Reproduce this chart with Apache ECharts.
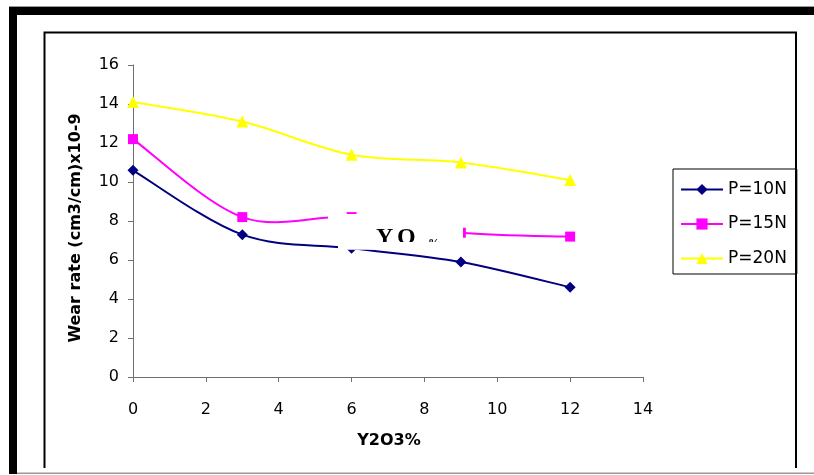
<!DOCTYPE html>
<html>
<head>
<meta charset="utf-8">
<script src="https://cdn.jsdelivr.net/npm/echarts@6/dist/echarts.min.js"></script>
<style>
  html, body { margin: 0; padding: 0; background: #fff; }
  #chart { width: 814px; height: 475px; }
</style>
</head>
<body>
<div id="chart"></div>
<script>
// Y2O3 content (%) and measured wear rate (cm3/cm x10^-9) at three loads
const yttriaContent = [0, 3, 6, 9, 12];
const wear10N = [10.6, 7.3, 6.6, 5.9, 4.6];
const wear15N = [12.2, 8.2, 8.2, 7.4, 7.2];
const wear20N = [14.1, 13.1, 11.4, 11.0, 10.1];
const seriesNames = ['P=10N', 'P=15N', 'P=20N'];

const xTitle = 'Y2O3%';
const yTitle = 'Wear rate (cm3/cm)x10-9';

const FONT = 'DejaVu Sans';

function pairs(values) {
  return yttriaContent.map((x, i) => [x, values[i]]);
}

// Spreadsheet-style smoothed curve (Catmull-Rom through the data points),
// positioned through the chart's own coordinate system.
function smoothCurve(values, color) {
  const data = pairs(values);
  return {
    type: 'custom',
    data: data,
    z: 2,
    silent: true,
    renderItem: function (params, api) {
      if (params.dataIndex !== 0) return null;
      const p = data.map(d => api.coord(d));
      const n = p.length;
      let d = 'M' + p[0][0] + ',' + p[0][1];
      for (let i = 0; i < n - 1; i++) {
        const p0 = p[Math.max(i - 1, 0)];
        const p1 = p[i];
        const p2 = p[i + 1];
        const p3 = p[Math.min(i + 2, n - 1)];
        const c1x = p1[0] + (p2[0] - p0[0]) / 6;
        const c1y = p1[1] + (p2[1] - p0[1]) / 6;
        const c2x = p2[0] - (p3[0] - p1[0]) / 6;
        const c2y = p2[1] - (p3[1] - p1[1]) / 6;
        d += ' C' + c1x + ',' + c1y + ' ' + c2x + ',' + c2y + ' ' + p2[0] + ',' + p2[1];
      }
      return {
        type: 'path',
        shape: { pathData: d },
        style: { stroke: color, lineWidth: 2, fill: 'none' }
      };
    }
  };
}

function markerSeries(name, values, color, symbol, size) {
  return {
    name: name,
    type: 'line',
    data: pairs(values),
    symbol: symbol,
    symbolSize: size,
    showSymbol: true,
    lineStyle: { color: color, width: 2, opacity: 0 },
    itemStyle: { color: color },
    emphasis: { disabled: true },
    z: 3
  };
}

const chart = echarts.init(document.getElementById('chart'), null, { renderer: 'canvas' });

const axisGray = '#707070';

chart.setOption({
  animation: false,
  backgroundColor: '#ffffff',
  grid: { left: 133, right: 171, top: 65, bottom: 98, containLabel: false },
  xAxis: {
    type: 'value',
    min: 0, max: 14, interval: 2,
    axisLine: { show: true, onZero: false, lineStyle: { color: axisGray, width: 1 } },
    axisTick: { show: true, length: 5, lineStyle: { color: axisGray } },
    axisLabel: { color: '#000', fontFamily: FONT, fontSize: 16, margin: 25 },
    splitLine: { show: false }
  },
  yAxis: {
    type: 'value',
    min: 0, max: 16, interval: 2,
    axisLine: { show: true, lineStyle: { color: axisGray, width: 1 } },
    axisTick: { show: true, length: 5, lineStyle: { color: axisGray } },
    axisLabel: { color: '#000', fontFamily: FONT, fontSize: 16, margin: 14 },
    splitLine: { show: false }
  },
  legend: {
    orient: 'vertical',
    left: 673, top: 169,
    itemWidth: 42, itemHeight: 14, itemGap: 17.5,
    padding: [12, 10, 7, 7],
    borderColor: '#000', borderWidth: 1,
    backgroundColor: '#fff',
    lineStyle: { opacity: 1, width: 2 },
    textStyle: { fontFamily: FONT, fontSize: 17, lineHeight: 16, color: '#000' },
    data: seriesNames
  },
  series: [
    smoothCurve(wear10N, '#000080'),
    smoothCurve(wear15N, '#FF00FF'),
    smoothCurve(wear20N, '#FFFF00'),
    markerSeries(seriesNames[0], wear10N, '#000080', 'diamond', 11),
    markerSeries(seriesNames[1], wear15N, '#FF00FF', 'rect', 10),
    markerSeries(seriesNames[2], wear20N, '#FFFF00', 'triangle', 12)
  ],
  graphic: {
    elements: [
      // outer page frame
      { type: 'rect', shape: { x: 9, y: 6, width: 805, height: 1 }, style: { fill: '#9a9a9a' }, z: 50, silent: true },
      { type: 'rect', shape: { x: 9, y: 7, width: 805, height: 8 }, style: { fill: '#000' }, z: 50, silent: true },
      { type: 'rect', shape: { x: 9, y: 7, width: 8, height: 467 }, style: { fill: '#000' }, z: 50, silent: true },
      { type: 'rect', shape: { x: 17, y: 472.5, width: 797, height: 1.5 }, style: { fill: '#9a9a9a' }, z: 50, silent: true },
      // chart area border (open at the bottom)
      {
        type: 'polyline',
        shape: { points: [[44.5, 468], [44.5, 32.5], [796, 32.5], [796, 468]] },
        style: { stroke: '#000', lineWidth: 2, fill: null },
        z: 60, silent: true
      },
      // axis titles
      {
        type: 'text', x: 389, y: 441, z: 60, silent: true,
        style: { text: xTitle, fill: '#000', font: 'bold 16px "DejaVu Sans"', align: 'center', verticalAlign: 'middle' }
      },
      {
        type: 'text', x: 76, y: 228, rotation: Math.PI / 2, z: 60, silent: true,
        style: { text: yTitle, fill: '#000', font: 'bold 16px "DejaVu Sans"', align: 'center', verticalAlign: 'middle' }
      },
      // floating text box with its white background
      { type: 'rect', shape: { x: 328, y: 214, width: 135, height: 26 }, style: { fill: '#fff' }, z: 100, silent: true },
      { type: 'rect', shape: { x: 338, y: 239, width: 125, height: 10.5 }, style: { fill: '#fff' }, z: 100, silent: true },
      {
        type: 'text', x: 376, y: 238, z: 101, silent: true,
        style: { text: 'Y', fill: '#000', font: 'bold 24px "Liberation Serif"', align: 'left', verticalAlign: 'middle' }
      },
      {
        type: 'text', x: 393, y: 246, z: 101, silent: true,
        style: { text: '2', fill: '#000', font: 'bold 9px "Liberation Serif"', align: 'left', verticalAlign: 'middle' }
      },
      {
        type: 'text', x: 397, y: 238, z: 101, silent: true,
        style: { text: 'O', fill: '#000', font: 'bold 24px "Liberation Serif"', align: 'left', verticalAlign: 'middle' }
      },
      {
        type: 'text', x: 416, y: 246, z: 101, silent: true,
        style: { text: '3', fill: '#000', font: 'bold 9px "Liberation Serif"', align: 'left', verticalAlign: 'middle' }
      },
      {
        type: 'text', x: 428, y: 244, z: 101, silent: true,
        style: { text: '%', fill: '#000', font: 'bold 12px "Liberation Serif"', align: 'left', verticalAlign: 'middle' }
      },
      // the text box clips the lower part of its text
      { type: 'rect', shape: { x: 338, y: 242, width: 125, height: 7.5 }, style: { fill: '#fff' }, z: 102, silent: true }
    ]
  }
});
</script>
</body>
</html>
